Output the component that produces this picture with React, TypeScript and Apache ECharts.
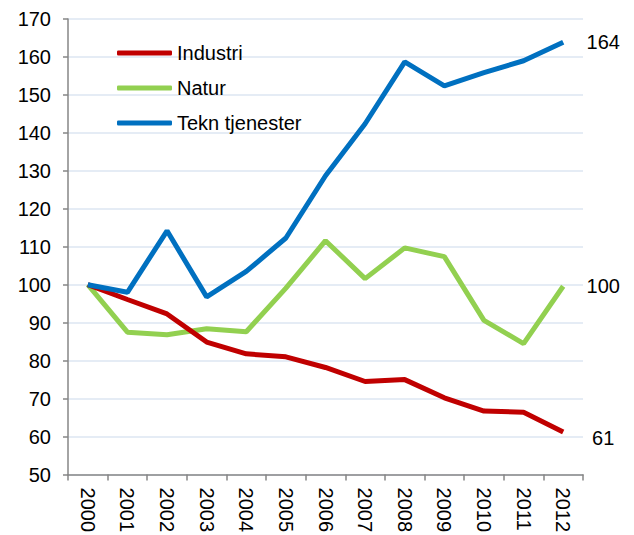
import React, { useEffect, useRef } from "react";
import * as echarts from "echarts";

const years = ["2000","2001","2002","2003","2004","2005","2006","2007","2008","2009","2010","2011","2012"];
const industri = [100, 96.1, 92.3, 84.9, 81.8, 81.0, 78.2, 74.5, 75.0, 70.2, 66.7, 66.4, 61.2];
const natur = [100, 87.5, 86.8, 88.4, 87.6, 99.1, 111.6, 101.6, 109.7, 107.4, 90.6, 84.5, 99.6];
const tekn = [100, 98.0, 114.2, 96.8, 103.5, 112.3, 128.7, 142.4, 158.7, 152.4, 155.9, 159.0, 163.9];
const seriesNames = ["Industri", "Natur", "Tekn tjenester"];
const colors = ["#C00000", "#92D050", "#0070C0"];

const FONT = "Liberation Sans, Arial, sans-serif";
const FS = 20;

export default function App() {
  const ref = useRef<HTMLDivElement>(null);
  useEffect(() => {
    if (!ref.current) return;
    const chart = echarts.init(ref.current, null, { renderer: "svg" });
    const mk = (name: string, data: number[], color: string, z: number, dy: number) => ({
      name,
      type: "line",
      data,
      symbol: "none",
      z,
      lineStyle: { width: 5, color },
      itemStyle: { color },
      endLabel: {
        show: true,
        formatter: (p: any) => String(Math.round(p.value)),
        color: "#000",
        fontFamily: FONT,
        fontSize: FS,
        align: "center",
        distance: 40,
        offset: [0, dy],
      },
    });
    chart.setOption({
      animation: false,
      color: colors,
      grid: { left: 68, right: 51, top: 19, bottom: 60, containLabel: false },
      legend: {
        data: seriesNames,
        orient: "vertical",
        left: 112,
        top: 38,
        itemWidth: 55,
        itemHeight: 5,
        itemGap: 15,
        icon: "roundRect",
        textStyle: { fontFamily: FONT, fontSize: FS, color: "#000" },
      },
      xAxis: {
        type: "category",
        data: years,
        boundaryGap: true,
        axisLine: { show: true, lineStyle: { color: "#868686", width: 1.5 } },
        axisTick: { show: true, length: 6, lineStyle: { color: "#868686", width: 1.5 } },
        axisLabel: {
          rotate: -90,
          margin: 13,
          color: "#000",
          fontFamily: FONT,
          fontSize: FS,
          interval: 0,
        },
        splitLine: { show: false },
      },
      yAxis: {
        type: "value",
        min: 50,
        max: 170,
        interval: 10,
        axisLine: { show: true, lineStyle: { color: "#868686", width: 1.5 } },
        axisTick: { show: true, length: 5, lineStyle: { color: "#868686", width: 1.5 } },
        axisLabel: { margin: 17, color: "#000", fontFamily: FONT, fontSize: FS },
        splitLine: { show: true, lineStyle: { color: "#DCE6F2", width: 1.5 } },
      },
      series: [
        mk(seriesNames[0], industri, colors[0], 3, 6),
        mk(seriesNames[1], natur, colors[1], 2, 0),
        mk(seriesNames[2], tekn, colors[2], 4, 0),
      ],
    });
    return () => chart.dispose();
  }, []);
  return (
    <div
      ref={ref}
      style={{ position: "fixed", left: 0, top: 0, width: 634, height: 535, background: "#fff" }}
    />
  );
}
